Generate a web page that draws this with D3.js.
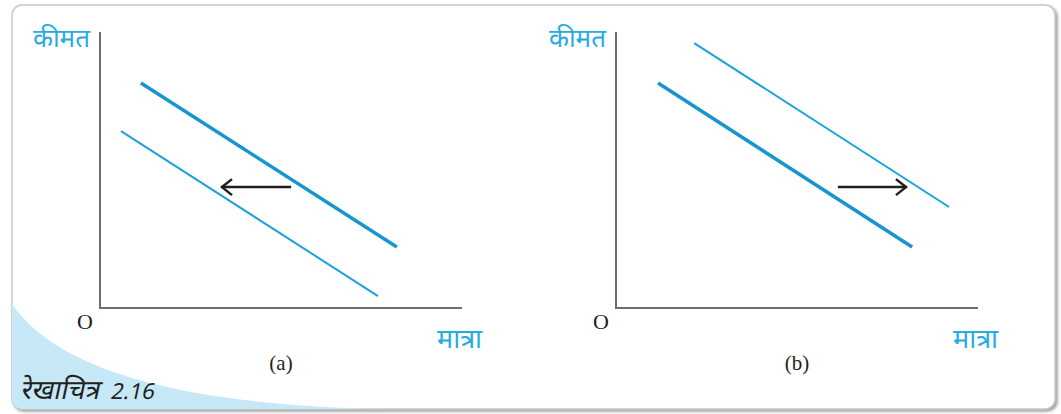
<!DOCTYPE html>
<html lang="hi">
<head>
<meta charset="UTF-8">
<script src="https://d3js.org/d3.v7.min.js"></script>
<style>
  body { margin: 0; background: #fff; }
  svg { display: block; }
</style>
</head>
<body>
<div id="chart"></div>
<script>
// data (0-100 units on each axis)
const panels = ["(a)", "(b)"];
const axisLabels = ["कीमत", "मात्रा"];
const originLabel = "O";
const caption = ["रेखाचित्र", "2.16"];

// [x1, y1, x2, y2]
const thickLines = [[11.3, 81.5, 82.0, 22.1], [11.6, 81.5, 81.8, 22.1]];
const thinLines = [[5.8, 64.1, 76.8, 4.3], [21.6, 96.0, 92.0, 36.6]];
const arrows = [[52.8, 43.8, 33.7, 43.8], [61.3, 43.8, 80.1, 43.8]];

const W = 1061, H = 414;
const blue = "#1ba1dc";
const dark = "#231f20";

const svg = d3.select("#chart").append("svg").attr("width", W).attr("height", H);

const defs = svg.append("defs");
const f = defs.append("filter").attr("id", "sh").attr("x", "-5%").attr("y", "-5%").attr("width", "110%").attr("height", "110%");
f.append("feDropShadow").attr("dx", 2).attr("dy", 2).attr("stdDeviation", 1.5).attr("flood-color", "#888").attr("flood-opacity", 0.8);
defs.append("clipPath").attr("id", "frameClip")
  .append("rect").attr("x", 12).attr("y", 5).attr("width", 1043).attr("height", 404).attr("rx", 10);

// frame
svg.append("rect")
  .attr("x", 12).attr("y", 5).attr("width", 1043).attr("height", 404).attr("rx", 10)
  .attr("fill", "#fff").attr("stroke", "#c8c8c8").attr("stroke-width", 1.5)
  .attr("filter", "url(#sh)");

// blue corner
svg.append("path")
  .attr("clip-path", "url(#frameClip)")
  .attr("d", "M12,304 Q80,404 388,409 L12,409 Z")
  .attr("fill", "#c6e8f7");

// caption, slanted
const cap = svg.append("g").attr("transform", "translate(20,399) skewX(-12)");
cap.append("text")
  .attr("x", 0).attr("y", 0)
  .attr("font-family", "'Noto Sans', 'Noto Sans Devanagari', sans-serif")
  .attr("font-size", 27).attr("fill", dark)
  .text(caption[0]);
cap.append("text")
  .attr("x", 90).attr("y", 0)
  .attr("font-family", "'Noto Sans', sans-serif")
  .attr("font-size", 22).attr("fill", dark)
  .text(caption[1]);

const offsets = [0, 516];

panels.forEach((p, i) => {
  const x0 = 100 + offsets[i];
  const x = d3.scaleLinear().domain([0, 100]).range([x0, x0 + 362]);
  const y = d3.scaleLinear().domain([0, 100]).range([308, 32]);
  const g = svg.append("g");

  // axes
  g.append("path")
    .attr("d", `M${x(0)},${y(100)} L${x(0)},${y(0)} L${x(100)},${y(0)}`)
    .attr("fill", "none").attr("stroke", "#6d6e71").attr("stroke-width", 2);

  g.append("text")
    .attr("x", x(0) - 10).attr("y", 47).attr("text-anchor", "end")
    .attr("font-family", "'Noto Sans', 'Noto Sans Devanagari', sans-serif")
    .attr("font-size", 26).attr("fill", "#29abe2")
    .text(axisLabels[0]);

  g.append("text")
    .attr("x", x(100) - 25).attr("y", 348)
    .attr("font-family", "'Noto Sans', 'Noto Sans Devanagari', sans-serif")
    .attr("font-size", 27).attr("fill", "#29abe2")
    .text(axisLabels[1]);

  g.append("text")
    .attr("x", x(0) - 15).attr("y", 329).attr("text-anchor", "middle")
    .attr("font-family", "'Liberation Serif', serif")
    .attr("font-size", 22).attr("fill", dark)
    .text(originLabel);

  g.append("text")
    .attr("x", x(50)).attr("y", 370).attr("text-anchor", "middle")
    .attr("font-family", "'Liberation Serif', serif")
    .attr("font-size", 21).attr("fill", dark)
    .text(p);

  const l1 = thickLines[i];
  g.append("line")
    .attr("x1", x(l1[0])).attr("y1", y(l1[1])).attr("x2", x(l1[2])).attr("y2", y(l1[3]))
    .attr("stroke", "#1695cf").attr("stroke-width", 3.5);

  const l2 = thinLines[i];
  g.append("line")
    .attr("x1", x(l2[0])).attr("y1", y(l2[1])).attr("x2", x(l2[2])).attr("y2", y(l2[3]))
    .attr("stroke", blue).attr("stroke-width", 2);

  // arrow
  const a = arrows[i];
  const ax2 = x(a[2]), ay = y(a[3]);
  const dir = a[2] < a[0] ? 1 : -1;
  g.append("line")
    .attr("x1", x(a[0])).attr("y1", y(a[1])).attr("x2", ax2 - dir * 1).attr("y2", ay)
    .attr("stroke", dark).attr("stroke-width", 2.5);
  g.append("path")
    .attr("d", `M${ax2 + dir * 10},${ay - 8} L${ax2},${ay} L${ax2 + dir * 10},${ay + 8}`)
    .attr("fill", "none").attr("stroke", dark).attr("stroke-width", 2.5);
});
</script>
</body>
</html>
